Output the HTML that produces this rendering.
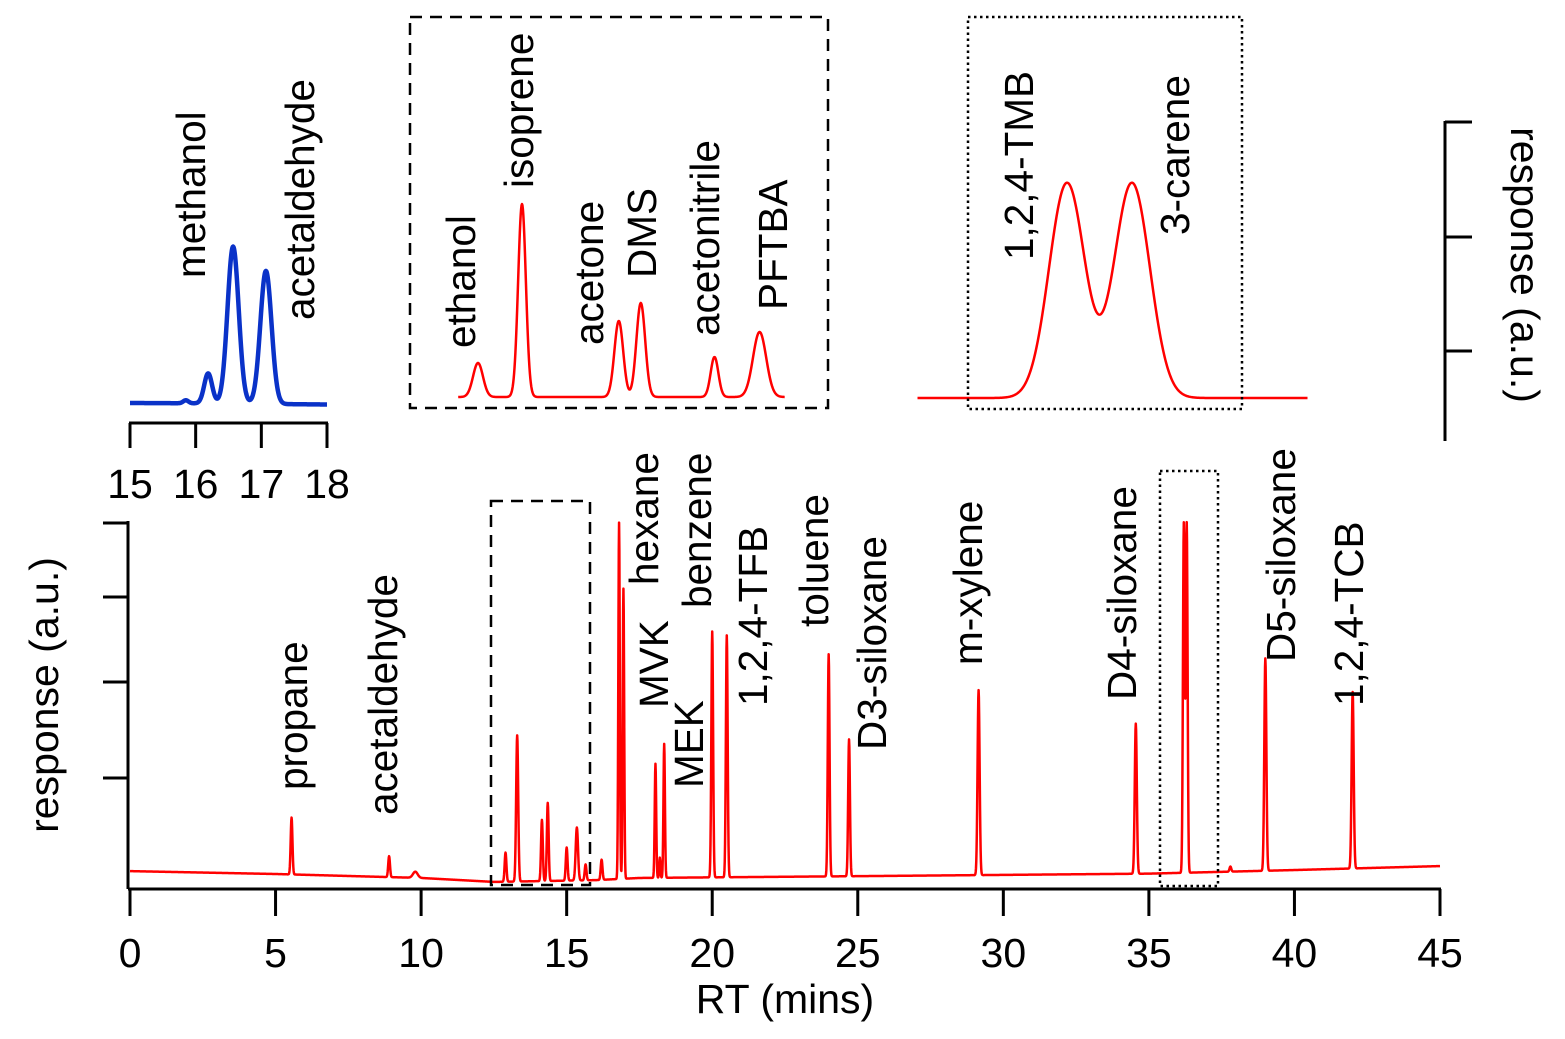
<!DOCTYPE html>
<html><head><meta charset="utf-8"><style>
html,body{margin:0;padding:0;background:#fff;}
svg{display:block;font-family:"Liberation Sans",Arial,sans-serif;}
</style></head><body>
<svg id="chart" width="1565" height="1039" viewBox="0 0 1565 1039" xmlns="http://www.w3.org/2000/svg">
<g id="main-axes"></g>
<g id="inset1"></g>
<g id="inset2"></g>
<g id="inset3"></g>
<g id="labels"></g>
</svg>
<script>
// ---- main chromatogram data ----
const mainTicks = [0,5,10,15,20,25,30,35,40,45];
const baseT = [0,5,10,12.5,16,17.5,25,35,40,45];
const baseV = [3.3,2.5,1.4,0.3,0.8,1.4,1.9,2.6,3.6,4.7];
const peakRT = [5.55,8.9,9.8,12.9,13.3,14.15,14.35,15.0,15.35,15.65,16.2,16.8,16.95,18.05,18.2,18.35,20.0,20.5,24.0,24.7,29.15,34.55,36.2,36.3,37.8,39.0,42.0];
const peakAmp = [15.8,5.8,1.7,8.1,40.6,17,21.7,9.2,14.7,4.4,5.6,99,80.6,31.7,5.6,37.2,68.3,67.2,61.7,38,51.4,41.7,97,97,1.4,59,49];
const peakSig = [0.03,0.03,0.08,0.03,0.035,0.03,0.03,0.03,0.04,0.03,0.03,0.025,0.025,0.025,0.02,0.025,0.03,0.03,0.03,0.03,0.035,0.035,0.03,0.03,0.03,0.035,0.035];
// ---- inset 1 (blue) ----
const in1Ticks = [15,16,17,18];
const in1RT = [15.85,16.19,16.57,17.07];
const in1Amp = [3,30,157,133];
const in1Sig = [0.04,0.06,0.085,0.085];
const in1BaseT = [15,16,17,18];
const in1BaseV = [0,1,3,5];
// ---- inset 2 (red, ethanol..PFTBA) ----
const in2RT = [12.9,13.3,14.18,14.38,15.05,15.46];
const in2Amp = [34,193,76,94,40,65];
const in2Sig = [0.045,0.035,0.04,0.04,0.035,0.06];
// ---- inset 3 (red, TMB/carene) ----
const in3RT = [36.2,36.3];
const in3Amp = [215,215];
const in3Sig = [0.0276,0.0276];

const NS="http://www.w3.org/2000/svg";
function mk(tag,attrs,parent){const e=document.createElementNS(NS,tag);for(const k in attrs)e.setAttribute(k,attrs[k]);parent.appendChild(e);return e;}
function interp(xs,ys,x){if(x<=xs[0])return ys[0];for(let i=1;i<xs.length;i++){if(x<=xs[i]){const f=(x-xs[i-1])/(xs[i]-xs[i-1]);return ys[i-1]+f*(ys[i]-ys[i-1]);}}return ys[ys.length-1];}
function gsum(t,rt,amp,sig){let s=0;for(let i=0;i<rt.length;i++){const d=(t-rt[i])/sig[i];if(Math.abs(d)<8)s+=amp[i]*Math.exp(-0.5*d*d);}return s;}

// main scales
const mx=t=>130+t*(1440-130)/45;
const my=v=>883-v*3.6;
const gm=document.getElementById('main-axes');
let d='';
for(let t=0;t<=45;t+=0.01){const v=interp(baseT,baseV,t)+gsum(t,peakRT,peakAmp,peakSig);d+=(d?'L':'M')+mx(t).toFixed(2)+','+my(v).toFixed(2);}
const tr=mk('path',{d:d,fill:'none',stroke:'#ff0000','stroke-width':2.5,'stroke-linejoin':'round'},gm);


const xa=mk('line',{x1:128,x2:1441,y1:889,y2:889,stroke:'#000','stroke-width':3},gm);


mainTicks.forEach(t=>{
  const tk=mk('line',{x1:mx(t),x2:mx(t),y1:889,y2:916,stroke:'#000','stroke-width':3},gm);
  
  
  const tl=mk('text',{x:mx(t),y:967,'font-size':41,'text-anchor':'middle'},gm);tl.textContent=t;
  
  
});
const ya=mk('line',{x1:128,x2:128,y1:521,y2:889,stroke:'#000','stroke-width':3},gm);


[523,597,682,778].forEach(y=>{const tk=mk('line',{x1:103,x2:128,y1:y,y2:y,stroke:'#000','stroke-width':3},gm);
  
  });
const xt=mk('text',{x:785,y:1013,'font-size':41,'text-anchor':'middle'},gm);xt.textContent='RT (mins)';


const yt=mk('text',{x:0,y:0,'font-size':41,'text-anchor':'middle',transform:'translate(58,695) rotate(-90)'},gm);yt.textContent='response (a.u.)';


const b1=mk('rect',{x:491,y:501,width:99,height:384,fill:'none',stroke:'#000','stroke-width':2.5,'stroke-dasharray':'12,8'},gm);


const b2=mk('rect',{x:1160,y:471,width:58,height:415,fill:'none',stroke:'#000','stroke-width':2.5,'stroke-dasharray':'2.5,3.5'},gm);



// inset 1
const g1=document.getElementById('inset1');
const ix1=t=>130+(t-15)*(327-130)/3;
const iy1=v=>403-v;
d='';
for(let t=15;t<=18.001;t+=0.005){const v=-interp(in1BaseT,in1BaseV,t)*0.3+gsum(t,in1RT,in1Amp,in1Sig);d+=(d?'L':'M')+ix1(t).toFixed(2)+','+iy1(v).toFixed(2);}
const t1=mk('path',{d:d,fill:'none',stroke:'#0a32c8','stroke-width':4.5,'stroke-linejoin':'round'},g1);


const a1=mk('line',{x1:129,x2:328,y1:423,y2:423,stroke:'#000','stroke-width':3},g1);


in1Ticks.forEach(t=>{
  const tk=mk('line',{x1:ix1(t),x2:ix1(t),y1:423,y2:448,stroke:'#000','stroke-width':3},g1);
  
  
  const tl=mk('text',{x:ix1(t),y:498,'font-size':41,'text-anchor':'middle'},g1);tl.textContent=t;
  
  
});

// inset 2
const g2=document.getElementById('inset2');
const ix2=t=>478+(t-12.9)*110;
d='';
for(let t=12.72;t<=15.69;t+=0.004){const v=gsum(t,in2RT,in2Amp,in2Sig);d+=(d?'L':'M')+ix2(t).toFixed(2)+','+(397-v).toFixed(2);}
const t2=mk('path',{d:d,fill:'none',stroke:'#ff0000','stroke-width':2.5,'stroke-linejoin':'round'},g2);


const r2=mk('rect',{x:410,y:17,width:418,height:391,fill:'none',stroke:'#000','stroke-width':2.5,'stroke-dasharray':'12,8'},g2);



// inset 3
const g3=document.getElementById('inset3');
const ix3=t=>1067+(t-36.2)*650;
d='';
for(let t=35.97;t<=36.57;t+=0.001){const v=gsum(t,in3RT,in3Amp,in3Sig);d+=(d?'L':'M')+ix3(t).toFixed(2)+','+(398-v).toFixed(2);}
const t3=mk('path',{d:d,fill:'none',stroke:'#ff0000','stroke-width':2.5,'stroke-linejoin':'round'},g3);


const r3=mk('rect',{x:968,y:17,width:274,height:392,fill:'none',stroke:'#000','stroke-width':2.5,'stroke-dasharray':'2.5,3.5'},g3);


const ra=mk('line',{x1:1445,x2:1445,y1:121,y2:441,stroke:'#000','stroke-width':3},g3);


[122,237,351].forEach(y=>{const tk=mk('line',{x1:1445,x2:1472,y1:y,y2:y,stroke:'#000','stroke-width':3},g3);
  
  });
const rt=mk('text',{x:0,y:0,'font-size':41,'text-anchor':'middle',transform:'translate(1511,265) rotate(90)'},g3);rt.textContent='response (a.u.)';



// labels: [text, baseline x, bottom y]
const labelText=['propane','acetaldehyde','hexane','MVK','MEK','benzene','1,2,4-TFB','toluene','D3-siloxane','m-xylene','D4-siloxane','D5-siloxane','1,2,4-TCB','methanol','acetaldehyde','ethanol','isoprene','acetone','DMS','acetonitrile','PFTBA','1,2,4-TMB','3-carene'];
const labelX=[307,397,658,668,703,711,767,828,886,982,1136,1295,1363,205,314,475,533,603,656,719,787,1033,1189];
const labelY=[790,815,585,708,788,608,706,627,750,665,700,662,706,278,320,348,188,345,278,336,310,260,235];
const gl=document.getElementById('labels');
labelText.forEach((s,i)=>{
  const t=mk('text',{x:0,y:0,'font-size':40.5,transform:`translate(${labelX[i]},${labelY[i]}) rotate(-90)`},gl);
  t.textContent=s;
  
  
});
</script>
</body></html>
